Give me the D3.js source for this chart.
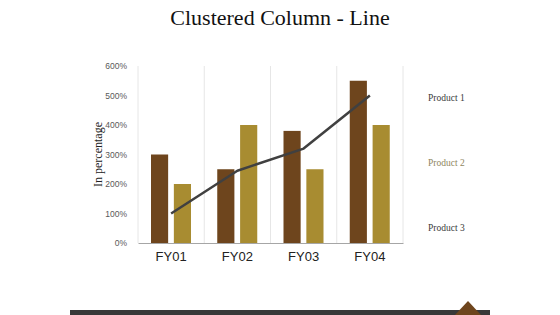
<!DOCTYPE html>
<html>
<head>
<meta charset="utf-8">
<script src="https://cdn.jsdelivr.net/npm/d3@7"></script>
<style>
  body { margin: 0; background: #fff; }
</style>
</head>
<body>
<div id="chart"></div>
<script>
// chart data
var years = ["FY01", "FY02", "FY03", "FY04"]
var product1 = [300, 250, 380, 550]
var product2 = [200, 400, 250, 400]
var product3 = [100, 245, 320, 500]
var legendNames = ["Product 1", "Product 2", "Product 3"]
var yTicks = [0, 100, 200, 300, 400, 500, 600]

var W = 560, H = 315
var svg = d3.select("#chart").append("svg")
    .attr("width", W).attr("height", H)

// title
svg.append("text")
    .attr("x", 280).attr("y", 25)
    .attr("text-anchor", "middle")
    .style("font-family", "'Liberation Serif', serif")
    .style("font-size", "22px")
    .style("fill", "#111")
    .text("Clustered Column - Line")

// plot area (named to avoid window.top)
var pLeft = 138, pRight = 403, pTop = 66, pBottom = 243

var x = d3.scaleBand().domain(years).range([pLeft, pRight])
var x1 = d3.scaleBand().domain([0, 1]).range([13, 53]).paddingInner(0.25)
var y = d3.scaleLinear().domain([0, 600]).range([pBottom, pTop])

// vertical gridlines at category boundaries
var bounds = years.map(function (d) { return x(d) }).concat([pRight])
svg.selectAll(".vgrid").data(bounds).enter().append("line")
    .attr("x1", function (d) { return d }).attr("x2", function (d) { return d })
    .attr("y1", pTop).attr("y2", pBottom)
    .style("stroke", "#e6e6e6").style("stroke-width", 1)

// y axis labels
var yAxis = svg.append("g")
    .attr("transform", "translate(" + (pLeft - 8) + ",0)")
    .call(d3.axisLeft(y).tickValues(yTicks).tickSize(0).tickFormat(function (d) { return d + "%" }))
yAxis.select(".domain").remove()
yAxis.selectAll("text")
    .style("font-family", "'Liberation Sans', Arial, sans-serif")
    .style("font-size", "8.5px")
    .style("fill", "#595959")

svg.append("text")
    .attr("transform", "translate(102," + ((pTop + pBottom) / 2) + ") rotate(-90)")
    .attr("text-anchor", "middle")
    .style("font-family", "'Liberation Serif', serif")
    .style("font-size", "12px")
    .style("fill", "#222")
    .text("In percentage")

// bars
var colors = ["#6e451d", "#a88c31"]
var groups = svg.selectAll(".grp").data(years).enter().append("g")
    .attr("transform", function (d) { return "translate(" + x(d) + ",0)" })
groups.selectAll("rect")
    .data(function (d, i) { return [product1[i], product2[i]] })
    .enter().append("rect")
    .attr("x", function (d, j) { return x1(j) })
    .attr("y", function (d) { return y(d) })
    .attr("width", x1.bandwidth())
    .attr("height", function (d) { return pBottom - y(d) })
    .style("fill", function (d, j) { return colors[j] })

// x axis
var xAxis = svg.append("g")
    .attr("transform", "translate(0," + pBottom + ")")
    .call(d3.axisBottom(x).tickSize(0).tickPadding(9))
xAxis.select(".domain").style("stroke", "#a6a6a6")
xAxis.selectAll("text")
    .style("font-family", "'Liberation Sans', Arial, sans-serif")
    .style("font-size", "13px")
    .style("fill", "#222")

// line
var line = d3.line()
    .x(function (d, i) { return x(years[i]) + x.bandwidth() / 2 })
    .y(function (d) { return y(d) })
svg.append("path")
    .datum(product3)
    .attr("d", line)
    .style("fill", "none")
    .style("stroke", "#404040")
    .style("stroke-width", 2.5)
    .style("stroke-linejoin", "round")

// legend (text only)
var legendColors = ["#3a3a3a", "#8f865e", "#3a3a3a"]
svg.selectAll(".leg").data(legendNames).enter().append("text")
    .attr("x", 428)
    .attr("y", function (d, i) { return 101 + i * 65 })
    .style("font-family", "'Liberation Serif', serif")
    .style("font-size", "9.5px")
    .style("fill", function (d, i) { return legendColors[i] })
    .text(function (d) { return d })

// footer decoration
svg.append("rect")
    .attr("x", 70).attr("y", 310).attr("width", 420).attr("height", 5)
    .style("fill", "#383838")
svg.append("path")
    .attr("d", "M468,301 L482,316 L454,316 Z")
    .style("fill", "#6e451d")
</script>
</body>
</html>
